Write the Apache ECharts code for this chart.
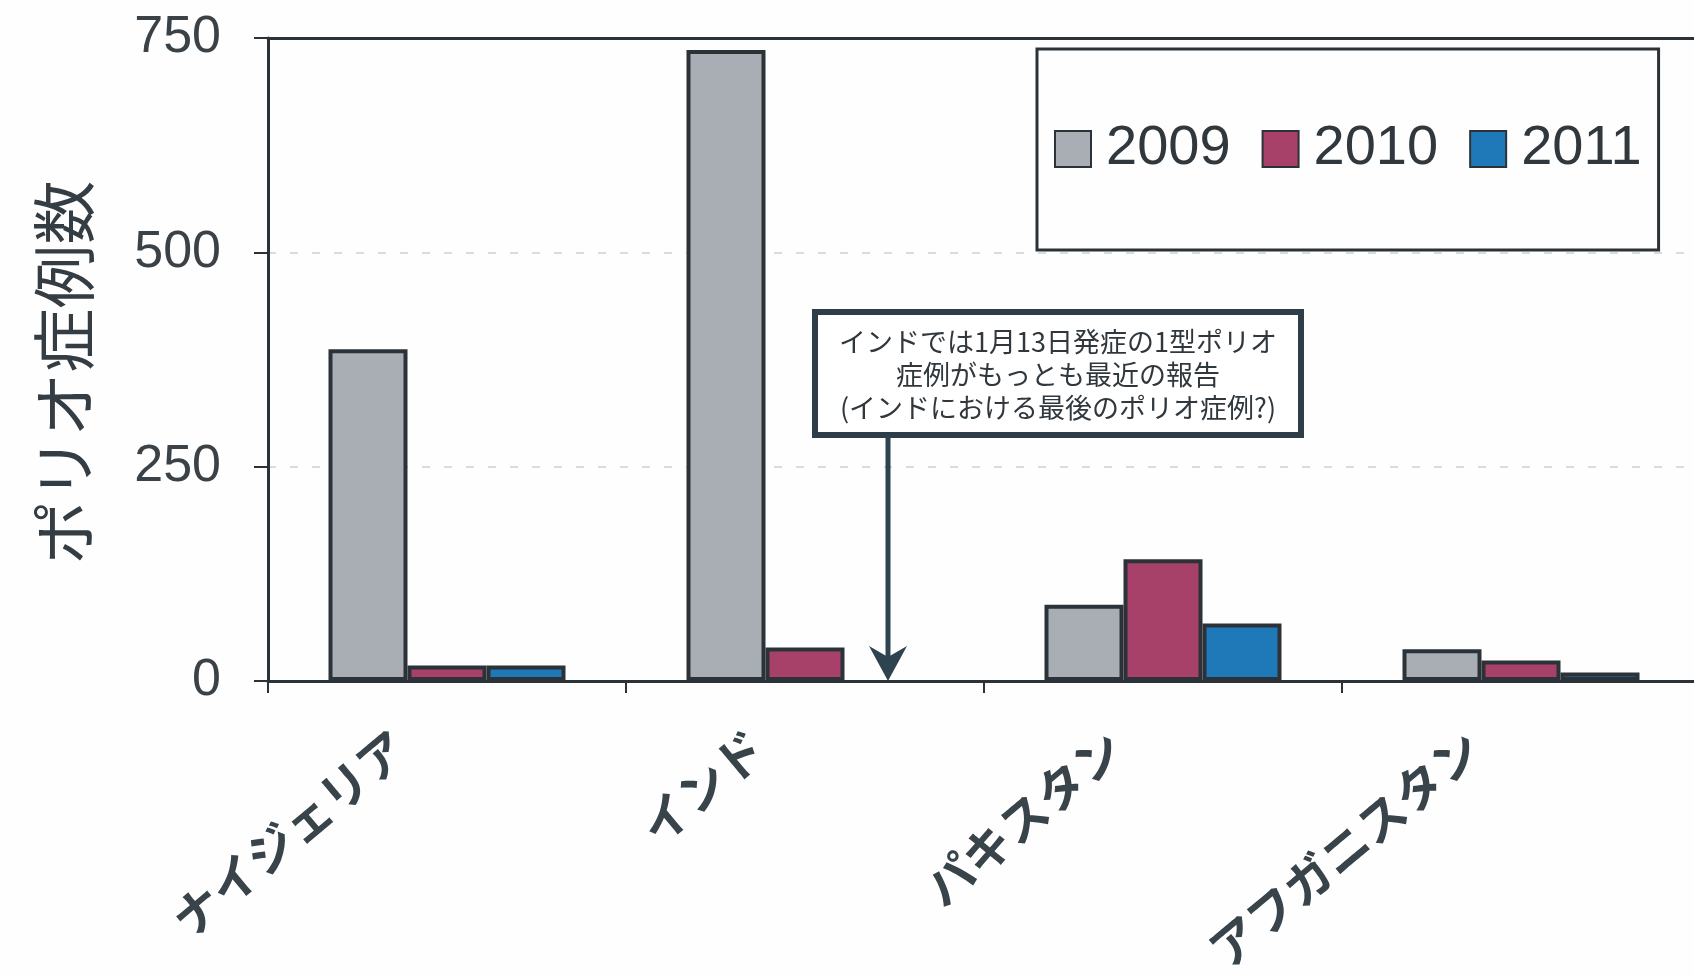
<!DOCTYPE html>
<html>
<head>
<meta charset="utf-8">
<script src="https://cdn.jsdelivr.net/npm/echarts@6/dist/echarts.min.js"></script>
<style>
html,body{margin:0;padding:0;background:#fefefe;}
#chart{width:1694px;height:977px;}
</style>
</head>
<body>
<div id="chart"></div>
<script>
const categories = ['ナイジェリア', 'インド', 'パキスタン', 'アフガニスタン'];
const years = ['2009', '2010', '2011'];
const cases2009 = [387, 736, 89, 37];
const cases2010 = [18, 39, 142, 24];
const cases2011 = [18, '-', 67, 10];
const yTicks = [0, 250, 500, 750];
const noteLines = ['インドでは1月13日発症の1型ポリオ', '症例がもっとも最近の報告', '(インドにおける最後のポリオ症例?)'];

const colors = ['#a8aeb4', '#a8416a', '#1f79b9'];
const dark = '#2b3338';
const barW = 79;

const chart = echarts.init(document.getElementById('chart'));
const seriesData = [cases2009, cases2010, cases2011];

const option = {
  backgroundColor: '#fefefe',
  animation: false,
  grid: {
    left: 268, top: 38, width: 1432, height: 643,
    containLabel: false, outerBoundsMode: 'none',
    show: false
  },
  legend: {
    left: 1037, top: 49,
    padding: [72, 17, 73, 17],
    borderColor: dark, borderWidth: 3,
    itemWidth: 36, itemHeight: 36, itemGap: 31,
    icon: 'rect',
    textStyle: { fontFamily: 'Liberation Sans, Arial, sans-serif', fontSize: 56, color: '#30383d', padding: [0, 0, 0, 10] },
    data: years
  },
  xAxis: [{
    type: 'category',
    data: categories,
    axisLine: { lineStyle: { color: dark, width: 3 } },
    axisTick: { show: true, length: 12, lineStyle: { color: dark, width: 2 } },
    axisLabel: {
      interval: 0,
      rotate: 40,
      margin: 20,
      padding: [0, 62, 0, 0],
      fontFamily: 'Noto Sans CJK JP, sans-serif',
      fontWeight: 'bold',
      fontSize: 48,
      color: '#38434a'
    },
    splitLine: { show: false }
  }, {
    type: 'category',
    position: 'top',
    data: categories,
    axisLine: { show: true, lineStyle: { color: dark, width: 3 } },
    axisTick: { show: false },
    axisLabel: { show: false },
    splitLine: { show: false }
  }],
  yAxis: {
    type: 'value',
    min: yTicks[0], max: yTicks[yTicks.length - 1], interval: 250,
    name: 'ポリオ症例数',
    nameLocation: 'middle',
    nameGap: 172,
    nameTextStyle: { fontFamily: 'Noto Sans CJK JP, sans-serif', fontSize: 64, color: '#343d43', padding: [0, 26, 0, 0] },
    axisLine: { show: true, lineStyle: { color: dark, width: 3 } },
    axisTick: { show: true, length: 14, lineStyle: { color: dark, width: 2 } },
    axisLabel: { margin: 47, fontFamily: 'Liberation Sans, Arial, sans-serif', fontSize: 52, color: '#3a4248' },
    splitLine: { show: true, lineStyle: { color: '#c9d2d3', width: 1.5, type: [8, 14] } }
  },
  series: years.map((y, i) => ({
    name: y,
    type: 'bar',
    data: seriesData[i],
    barWidth: barW,
    barGap: '0%',
    itemStyle: { color: colors[i], borderColor: dark, borderWidth: 4 }
  }))
};
chart.setOption(option);

// annotation anchored to the India 2011 slot via the axes
const cx = chart.convertToPixel({ xAxisIndex: 0 }, 'インド') + barW + 4;
const y0 = chart.convertToPixel({ yAxisIndex: 0 }, 0);
const boxL = 815, boxT = 312, boxW = 486, boxH = 123;
const arrowColor = '#2e4350';
chart.setOption({
  graphic: [
    { type: 'rect', z: 100, shape: { x: boxL, y: boxT, width: boxW, height: boxH },
      style: { fill: '#ffffff', stroke: '#2d3e48', lineWidth: 6 } },
    { type: 'text', z: 101, x: boxL + boxW / 2, y: boxT + boxH / 2 + 1,
      style: { text: noteLines.join('\n'), fontFamily: 'Noto Sans CJK JP, sans-serif', fontSize: 27,
        lineHeight: 33, fill: '#30383d', align: 'center', verticalAlign: 'middle' } },
    { type: 'line', z: 100, shape: { x1: cx, y1: boxT + boxH, x2: cx, y2: y0 - 20 },
      style: { stroke: arrowColor, lineWidth: 5 } },
    { type: 'polygon', z: 100, shape: { points: [[cx, y0], [cx - 19, y0 - 35], [cx, y0 - 24], [cx + 19, y0 - 35]] },
      style: { fill: arrowColor } }
  ]
});
</script>
</body>
</html>
